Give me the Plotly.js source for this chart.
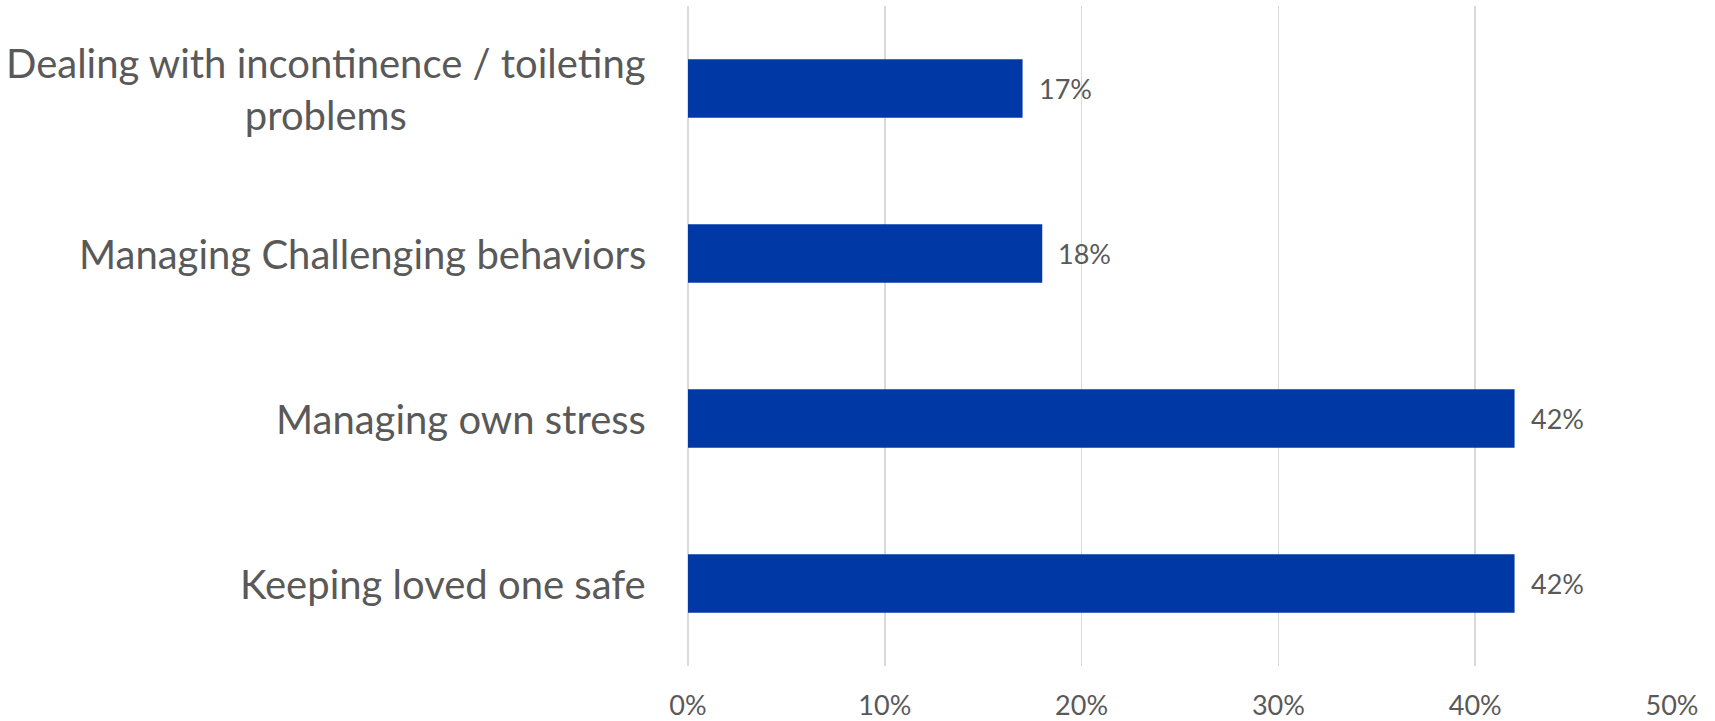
<!DOCTYPE html>
<html>
<head>
<meta charset="utf-8">
<script src="https://cdn.plot.ly/plotly-3.0.1.min.js"></script>
<style>html,body{margin:0;padding:0;background:#fff;}#chart{width:1715px;height:721px;}</style>
</head>
<body>
<div id="chart"></div>
<script>
const categories = [
  "Dealing with incontinence / toileting<br>problems",
  "Managing Challenging behaviors",
  "Managing own stress",
  "Keeping loved one safe"
];
const values = [0.17, 0.18, 0.42, 0.42];
const valueLabels = ["17%", "18%", "42%", "42%"];
const xTickVals = [0, 0.1, 0.2, 0.3, 0.4, 0.5];
const xTickText = ["0%", "10%", "20%", "30%", "40%", "50%"];

const FONT = "Lato, 'Open Sans', sans-serif";
const GREY = "#595959";

const annotations = [];
categories.forEach((c, i) => {
  annotations.push({
    xref: "paper", yref: "y", x: 0, y: c, xanchor: "right", yanchor: "middle",
    xshift: -40, align: "center", showarrow: false, text: c,
    font: {family: FONT, size: 40, color: GREY}
  });
  annotations.push({
    xref: "x", yref: "y", x: values[i], y: c, xanchor: "left", yanchor: "middle",
    xshift: 14, showarrow: false, text: valueLabels[i],
    font: {family: FONT, size: 27, color: GREY}
  });
});

const data = [{
  type: "bar", orientation: "h",
  x: values, y: categories,
  marker: {color: "#0039A6"},
  hoverinfo: "none"
}];

const layout = {
  width: 1715, height: 721,
  margin: {l: 688, r: 43, t: 6, b: 55},
  paper_bgcolor: "#fff", plot_bgcolor: "#fff",
  bargap: 0.646,
  showlegend: false,
  xaxis: {
    range: [0, 0.5], tickvals: xTickVals, ticktext: xTickText,
    showgrid: true, gridcolor: "#D9D9D9", gridwidth: 1.5,
    zeroline: true, zerolinecolor: "#D9D9D9", zerolinewidth: 1.5, showline: false,
    tickfont: {family: FONT, size: 27, color: GREY},
    ticks: "", ticklabelstandoff: 21, fixedrange: true
  },
  yaxis: {
    type: "category", autorange: "reversed", showticklabels: false,
    showgrid: false, zeroline: false, showline: false, ticks: "", fixedrange: true
  },
  annotations: annotations
};

Plotly.newPlot("chart", data, layout, {displayModeBar: false, staticPlot: true});
</script>
</body>
</html>
